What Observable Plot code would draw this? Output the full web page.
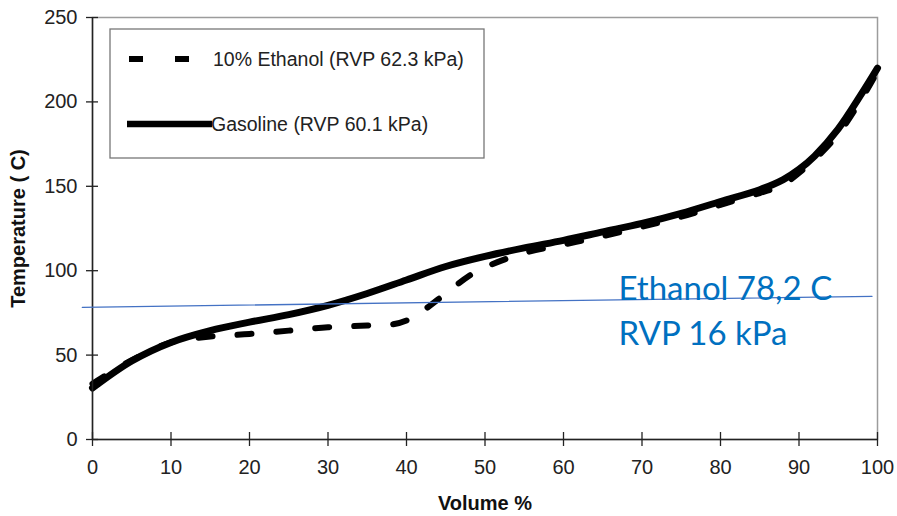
<!DOCTYPE html>
<html><head><meta charset="utf-8">
<script src="https://cdn.jsdelivr.net/npm/d3@7"></script>
<script src="https://cdn.jsdelivr.net/npm/@observablehq/plot@0.6"></script>
<style>body{margin:0;background:#fff;}#chart{width:897px;height:516px;}</style>
</head><body><div id="chart"></div>
<script>
// Gasoline (solid)
const gasVolume = [0,5,10,15,20,25,30,35,40,45,50,55,60,65,70,75,80,85,88,90,92,95,98,100];
const gasTemp   = [30.5,46.5,57.5,64.5,69.5,74,79.5,86.5,94.5,102.5,108.5,113.5,118,123,128,134,141,148,154,160,168,184,205,220];
// 10% Ethanol (dashed)
const ethVolume = [0,5,10,15,20,25,30,35,38,40,42,45,48,50,55,60,65,70,75,80,85,88,90,92,95,98,100];
const ethTemp   = [33,47,57.5,61,62.5,64.5,66.5,67.5,68,70.5,76,86.5,97,102,110.5,115.5,120.5,126,132,139,146,151,158,166,181,202,218];
// Ethanol boiling reference line (slightly tilted as drawn)
const refVolume = [-1.3, 99.3];
const refTemp   = [78.3, 84.8];
const xTicks = [0,10,20,30,40,50,60,70,80,90,100];
const yTicks = [0,50,100,150,200,250];
const seriesNames = ["10% Ethanol (RVP 62.3 kPa)", "Gasoline (RVP 60.1 kPa)"];
const annotationLines = ["Ethanol 78,2 C", "RVP 16 kPa"];
const xLabel = "Volume %";
const yLabel = "Temperature ( C)";

const gas = gasVolume.map((v,i)=>({v, t: gasTemp[i]}));
const eth = ethVolume.map((v,i)=>({v, t: ethTemp[i]}));
const ref = refVolume.map((v,i)=>({v, t: refTemp[i]}));

const chart = Plot.plot({
  width: 897, height: 516,
  marginLeft: 92, marginRight: 20, marginTop: 17, marginBottom: 77,
  style: {fontFamily: "'Liberation Sans', Arial, sans-serif", fontSize: "20px", color: "#222", background: "#fff", overflow: "visible"},
  x: {domain: [0, 100]},
  y: {domain: [0, 250]},
  marks: [
    Plot.frame({stroke: "#9c9c9c", strokeWidth: 1.5}),
    Plot.line(eth, {x: "v", y: "t", stroke: "#000", strokeWidth: 6, strokeDasharray: "14,25", curve: "catmull-rom"}),
    Plot.line(gas, {x: "v", y: "t", stroke: "#000", strokeWidth: 7, curve: "catmull-rom"}),
    Plot.ruleX([0], {stroke: "#222", strokeWidth: 1.5}),
    Plot.ruleY([0], {stroke: "#222", strokeWidth: 1.5}),
    Plot.axisX({ticks: xTicks, tickSize: 7, tickPadding: 13, label: null, strokeWidth: 1.3, stroke: "#222"}),
    Plot.axisX({ticks: xTicks, tickSize: 7, dy: -7, text: null, label: null, strokeWidth: 1.3, stroke: "#222"}),
    Plot.axisY({ticks: yTicks, tickSize: 6, tickPadding: 9, label: null, strokeWidth: 1.3, stroke: "#222"}),
    Plot.axisY({ticks: yTicks, tickSize: 6, dx: 6, text: null, label: null, strokeWidth: 1.3, stroke: "#222"}),
    Plot.line(ref, {x: "v", y: "t", stroke: "#4472C4", strokeWidth: 1.4}),
    Plot.text([yLabel], {text: d => d, frameAnchor: "left", dx: -74, rotate: -90, textAnchor: "middle", lineAnchor: "middle", fontWeight: "bold", fontSize: 20, fill: "#111"}),
    Plot.text([xLabel], {text: d => d, frameAnchor: "bottom", dy: 64, textAnchor: "middle", lineAnchor: "middle", fontWeight: "bold", fontSize: 20, fill: "#111"}),
    Plot.text([annotationLines[0]], {text: d => d, frameAnchor: "top-left", dx: 526, dy: 259, textAnchor: "start", fontFamily: "Lato", fontSize: 33, fill: "#0070C0"}),
    Plot.text([annotationLines[1]], {text: d => d, frameAnchor: "top-left", dx: 526, dy: 304, textAnchor: "start", fontFamily: "Lato", fontSize: 33, fill: "#0070C0"})
  ]
});
document.getElementById("chart").appendChild(chart);

// Legend box drawn into the same SVG
const svg = d3.select(chart);
const lg = svg.append("g").attr("font-family", "'Liberation Sans', Arial, sans-serif").attr("font-size", 19.5).attr("fill", "#222").attr("text-anchor", "start");
lg.append("rect").attr("x", 110).attr("y", 29).attr("width", 374).attr("height", 129)
  .attr("fill", "#fff").attr("stroke", "#777").attr("stroke-width", 1.3);
lg.append("line").attr("x1", 129).attr("x2", 190).attr("y1", 59).attr("y2", 59)
  .attr("stroke", "#000").attr("stroke-width", 6).attr("stroke-dasharray", "14,32");
lg.append("text").attr("x", 213).attr("y", 59).attr("dy", "0.35em").attr("text-anchor", "start").text(seriesNames[0]);
lg.append("line").attr("x1", 127).attr("x2", 212).attr("y1", 124).attr("y2", 124)
  .attr("stroke", "#000").attr("stroke-width", 6.5);
lg.append("text").attr("x", 211).attr("y", 124).attr("dy", "0.35em").attr("text-anchor", "start").text(seriesNames[1]);
</script>
</body></html>
